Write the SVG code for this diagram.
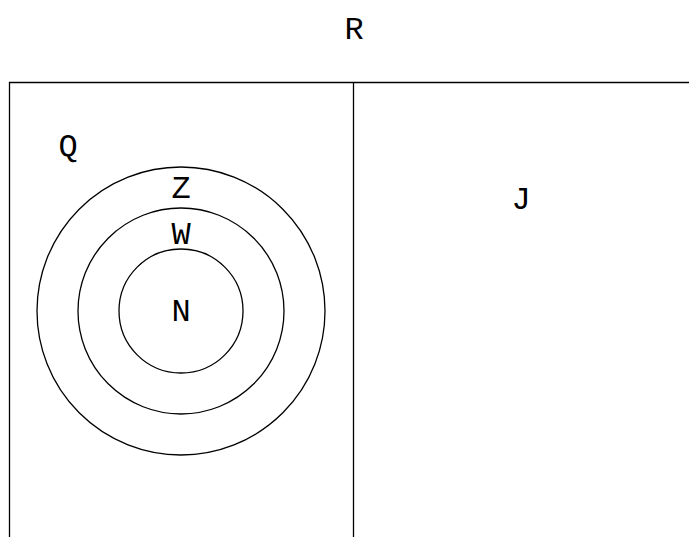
<svg xmlns="http://www.w3.org/2000/svg" width="689" height="537" viewBox="0 0 689 537">
<style>
.t{font-family:"Liberation Mono","Courier New",monospace;font-size:32px;fill:#000;text-anchor:middle;dominant-baseline:central}
.s{fill:none;stroke:#000;stroke-width:1.3}
</style>
<rect width="689" height="537" fill="#fff"/>
<g id="R">
<text class="t" x="354" y="30">R</text>
<path class="s" d="M9.5,560 V82.5 H700"/>
</g>
<g id="Q">
<path class="s" d="M353.5,82.5 V560"/>
<text class="t" x="68" y="147">Q</text>
</g>
<g id="J">
<text class="t" x="521" y="200">J</text>
</g>
<g id="Z">
<circle class="s" cx="181" cy="311" r="144"/>
<text class="t" x="181" y="189">Z</text>
</g>
<g id="W">
<circle class="s" cx="181" cy="311" r="103"/>
<text class="t" x="181" y="235">W</text>
</g>
<g id="N">
<circle class="s" cx="181" cy="311" r="62"/>
<text class="t" x="181" y="312">N</text>
</g>
<g id="connectors"></g>
</svg>
